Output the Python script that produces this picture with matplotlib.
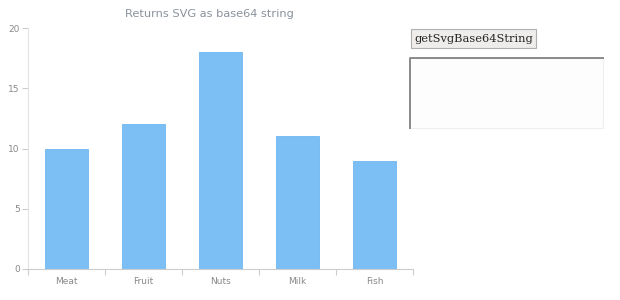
import matplotlib
matplotlib.use("Agg")
import matplotlib.pyplot as plt
from matplotlib.patches import Rectangle
from matplotlib.lines import Line2D
import numpy as np

# data
categories = ["Meat", "Fruit", "Nuts", "Milk", "Fish"]
values = [10, 12, 18, 11, 9]
y_ticks = [0, 5, 10, 15, 20]

W, H = 620, 300
fig = plt.figure(figsize=(W / 100, H / 100), dpi=100)

# plot area in pixels: x 28..413, y 28..269
ax = fig.add_axes([28 / W, 1 - 269 / H, (413 - 28) / W, (269 - 28) / H])
x = np.arange(len(categories))
ax.bar(x, values, width=0.57, color="#7cbff5", edgecolor="#6fb6f2", linewidth=0.6)
ax.set_xlim(-0.5, len(categories) - 0.5)
ax.set_ylim(0, 20)
ax.set_yticks(y_ticks)
ax.set_xticks(x)
ax.set_xticklabels(categories)
ax.set_xticks(np.arange(len(categories) + 1) - 0.5, minor=True)

for s in ["top", "right"]:
    ax.spines[s].set_visible(False)
ax.spines["left"].set_color("#e4e4e4")
ax.spines["bottom"].set_color("#cccccc")
ax.tick_params(axis="y", colors="#cccccc", labelcolor="#888888", labelsize=6.5, length=4, width=0.8, pad=2)
ax.tick_params(axis="x", which="major", length=0, labelcolor="#888888", labelsize=6.5, pad=6)
ax.tick_params(axis="x", which="minor", length=4, color="#cccccc", width=0.8)

fig.text(209 / W, 1 - 14 / H, "Returns SVG as base64 string", ha="center", va="center",
         fontsize=8.2, color="#8a929c")

# button
fig.patches.append(Rectangle((411 / W, 1 - 48 / H), 125 / W, 19 / H, transform=fig.transFigure,
                             facecolor="#efedeb", edgecolor="#b0b0b0", linewidth=0.8))
fig.text(474 / W, 1 - 39 / H, "getSvgBase64String", ha="center", va="center",
         fontsize=8.2, family="DejaVu Serif", color="#222222")

# textarea: darker top/left edge, faint bottom/right
x0, x1, y0, y1 = 410 / W, 603 / W, 1 - 128 / H, 1 - 58 / H
fig.patches.append(Rectangle((x0, y0), x1 - x0, y1 - y0, transform=fig.transFigure,
                             facecolor="#fdfdfd", edgecolor="#eeeeee", linewidth=0.8))
fig.lines.append(Line2D([x0, x0, x1], [y0, y1, y1], transform=fig.transFigure,
                        color="#8a8a8a", linewidth=1.4))

fig.savefig("out.png", dpi=100, facecolor="white")
